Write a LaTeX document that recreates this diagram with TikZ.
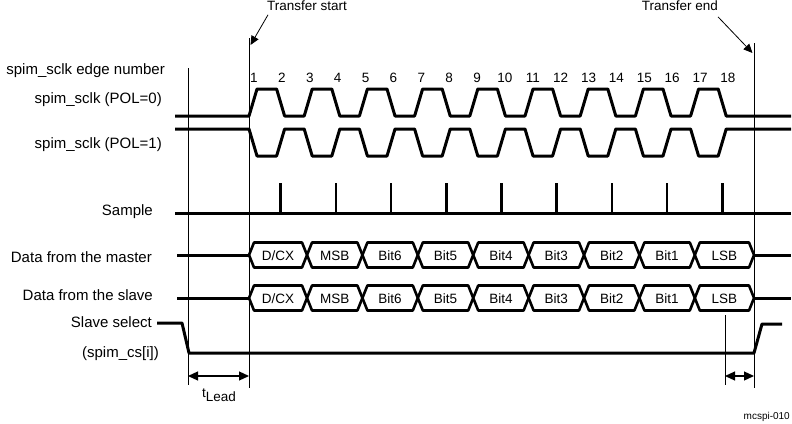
\documentclass[tikz,border=0pt]{standalone}
\usepackage{fontspec}
\setmainfont{Liberation Sans}
\usetikzlibrary{arrows.meta}

\tikzset{
	sig/.style={line width=3pt,line join=round},
	bus/.style={line width=2.6pt,line join=round},
	guide/.style={line width=0.9pt},
	ptr/.style={line width=0.8pt,-{Triangle[length=9pt,width=8pt]}},
	dimarr/.style={line width=1.2pt,{Triangle[length=10pt,width=9pt]}-{Triangle[length=10pt,width=9pt]}},
	lbl/.style={anchor=base east,inner sep=0pt,font=\fontsize{15}{17}\selectfont},
	num/.style={anchor=base,inner sep=0pt,font=\fontsize{13.5}{15}\selectfont},
	bit/.style={inner sep=0pt,font=\fontsize{13.5}{15}\selectfont}
}

\begin{document}
\begin{tikzpicture}[x=1pt,y=-1pt]
		\useasboundingbox (0,0) rectangle (792,423);
		\def\hp{27.6}
		\node[lbl] (edgelbl) at (165,74) {spim\_sclk edge number};
		\node[lbl] (pol0lbl) at (162,103) {spim\_sclk (POL=0)};
		\node[lbl] (pol1lbl) at (162,148) {spim\_sclk (POL=1)};
		\node[lbl] (samplelbl) at (153,215) {Sample};
		\node[lbl] (masterlbl) at (152,262) {Data from the master};
		\node[lbl] (slavelbl) at (153,300) {Data from the slave};
		\node[lbl] (sslbl) at (152,327) {Slave select};
		\node[lbl] (cslbl) at (159,357) {(spim\_cs[i])};
		\node[num,anchor=base west] (tstart) at (267,10.5) {Transfer start};
		\node[num,anchor=base east] (tend) at (718,10.5) {Transfer end};
		\node[num] (tlead) at (219,397) {t\raisebox{-4.5pt}{Lead}};
		\node[anchor=base east,inner sep=0pt,font=\fontsize{10}{12}\selectfont] (figid) at (790,419) {mcspi-010};
		\foreach \k in {1,...,18}
			\node[num] (n\k) at ({254+27.88*(\k-1)},82) {\k};
		\draw[guide] (188,68) -- (188,385);
		\draw[guide] (249,38) -- (249,388);
		\draw[guide] (754,43) -- (754,388);
		\draw[guide] (725,315) -- (725,385);
		\coordinate (tsp) at (250.5,45);
		\coordinate (tep) at (752.5,53);
		\draw[ptr] ([xshift=1pt,yshift=-4pt]tstart.south west) -- (tsp);
		\draw[ptr] ([yshift=-6pt]tend.south east) -- (tep);
		\draw[sig] (175,116) -- (249,116) \foreach \j in {0,...,8} { -- ({249+2*\hp*\j},116) -- ({257+2*\hp*\j},89) -- ({249+\hp+2*\hp*\j},89) -- ({257+\hp+2*\hp*\j},116) } -- (791,116);
		\draw[sig] (175,129) -- (249,129) \foreach \j in {0,...,8} { -- ({249+2*\hp*\j},129) -- ({257+2*\hp*\j},156) -- ({249+\hp+2*\hp*\j},156) -- ({257+\hp+2*\hp*\j},129) } -- (791,129);
		\draw[sig] (175,213) -- (791,213);
		\foreach \j in {0,...,8}
			\draw[line width=2.6pt] ({253+\hp+2*\hp*\j},183) -- ({253+\hp+2*\hp*\j},213);
		\foreach \r/\c in {m/255,s/298} {
			\draw[sig] (177,\c) -- (249,\c);
			\draw[sig] (754,\c) -- (791,\c);
			\foreach \i/\a/\b/\t in {1/249/307/D\slash CX,2/307/362.4/MSB,3/362.4/417.8/Bit6,4/417.8/473.2/Bit5,5/473.2/528.6/Bit4,6/528.6/584/Bit3,7/584/639.4/Bit2,8/639.4/694.8/Bit1,9/694.8/754/LSB} {
				\draw[bus] (\a,\c) -- ({\a+5},{\c-12.5}) -- ({\b-5},{\c-12.5}) -- (\b,\c) -- ({\b-5},{\c+12.5}) -- ({\a+5},{\c+12.5}) -- cycle;
				\node[bit] (\r\i) at ({(\a+\b)/2},{\c+1}) {\t};
			}
		}
		\draw[sig] (157,323) -- (182,323) -- (189,353) -- (754,353) -- (762,324) -- (782,324);
		\coordinate (leada) at (188,376);
		\coordinate (leadb) at (249,376);
		\coordinate (lagb) at (725,376);
		\coordinate (laga) at (754,376);
		\draw[dimarr] (leada) -- (leadb);
		\draw[dimarr] (lagb) -- (laga);
	\end{tikzpicture}
\end{document}
